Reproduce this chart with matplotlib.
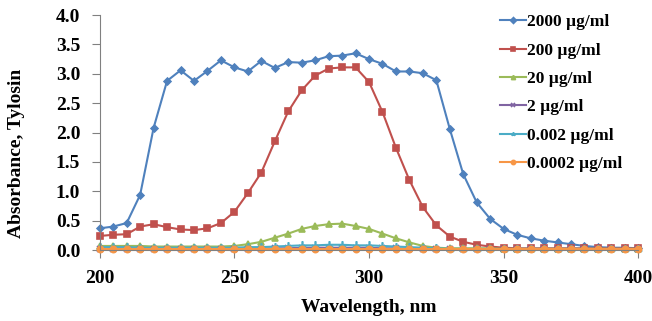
import numpy as np
import matplotlib
matplotlib.use("Agg")
import matplotlib.pyplot as plt

# wavelengths, nm (every 5 nm)
wavelength = list(range(200, 401, 5))

abs_2000 = [0.37, 0.40, 0.46, 0.94, 2.08, 2.88, 3.06, 2.88, 3.05, 3.23, 3.11,
            3.04, 3.22, 3.10, 3.20, 3.19, 3.23, 3.30, 3.31, 3.35, 3.25, 3.17,
            3.04, 3.04, 3.01, 2.89, 2.06, 1.29, 0.81, 0.53, 0.36, 0.26, 0.20,
            0.16, 0.13, 0.10, 0.07, 0.05, 0.04, 0.04, 0.03]
abs_200 = [0.24, 0.26, 0.27, 0.40, 0.44, 0.39, 0.35, 0.34, 0.37, 0.46, 0.65,
           0.97, 1.32, 1.85, 2.36, 2.72, 2.97, 3.09, 3.11, 3.11, 2.86, 2.35,
           1.74, 1.19, 0.73, 0.42, 0.23, 0.14, 0.09, 0.06, 0.04, 0.03, 0.03,
           0.03, 0.03, 0.03, 0.03, 0.03, 0.03, 0.03, 0.03]
abs_20 = [0.07, 0.07, 0.07, 0.07, 0.06, 0.06, 0.06, 0.06, 0.06, 0.06, 0.07,
          0.10, 0.14, 0.21, 0.28, 0.36, 0.41, 0.44, 0.45, 0.41, 0.36, 0.28,
          0.20, 0.13, 0.07, 0.04, 0.03, 0.03, 0.03, 0.03, 0.02, 0.02, 0.02,
          0.02, 0.02, 0.02, 0.02, 0.02, 0.02, 0.02, 0.02]
abs_2 = [0.02, 0.02, 0.02, 0.02, 0.02, 0.02, 0.02, 0.02, 0.02, 0.02, 0.02,
         0.02, 0.02, 0.03, 0.03, 0.04, 0.04, 0.04, 0.04, 0.04, 0.04, 0.03,
         0.03, 0.02, 0.02, 0.02, 0.01, 0.01, 0.01, 0.01, 0.01, 0.01, 0.01,
         0.01, 0.01, 0.01, 0.01, 0.01, 0.01, 0.01, 0.01]
abs_0002 = [0.05, 0.05, 0.05, 0.04, 0.04, 0.04, 0.04, 0.04, 0.04, 0.04, 0.04,
            0.05, 0.05, 0.06, 0.07, 0.08, 0.08, 0.09, 0.09, 0.08, 0.08, 0.07,
            0.06, 0.05, 0.04, 0.03, 0.02, 0.02, 0.02, 0.02, 0.02, 0.02, 0.02,
            0.02, 0.02, 0.02, 0.02, 0.02, 0.02, 0.02, 0.02]
abs_00002 = [0.01] * 41

labels = ["2000 µg/ml", "200 µg/ml", "20 µg/ml", "2 µg/ml",
          "0.002 µg/ml", "0.0002 µg/ml"]

series = [abs_2000, abs_200, abs_20, abs_2, abs_0002, abs_00002]
colors = ["#4F81BD", "#C0504D", "#9BBB59", "#8064A2", "#4BACC6", "#F79646"]
markers = ["D", "s", "^", "x", (3, 2, 0), "o"]
msizes = [3.5, 5, 5, 5, 6, 4.5]

plt.rcParams["font.family"] = "Liberation Serif"
plt.rcParams["font.weight"] = "bold"

fig = plt.figure(figsize=(6.52, 3.21), dpi=100)
ax = fig.add_axes([0.153, 0.221, 0.826, 0.732])

for y, lab, c, m, ms in zip(series, labels, colors, markers, msizes):
    ax.plot(wavelength, y, color=c, marker=m, markersize=ms, linewidth=1.5,
            label=lab, clip_on=False, markeredgewidth=1.2)

ax.set_xlim(200, 400)
ax.set_ylim(0, 4)
ax.set_xticks(np.arange(200, 401, 50))
ax.set_yticks(np.arange(0, 4.01, 0.5))
ax.yaxis.set_major_formatter(matplotlib.ticker.FormatStrFormatter("%.1f"))

for s in ["top", "right"]:
    ax.spines[s].set_visible(False)
for s in ["left", "bottom"]:
    ax.spines[s].set_color("#808080")
ax.tick_params(direction="out", length=6, color="#808080", labelsize=14, pad=8)
for t in ax.get_xticklabels() + ax.get_yticklabels():
    t.set_fontweight("bold")

ax.set_xlabel("Wavelength, nm", fontsize=14, fontweight="bold")
ax.set_ylabel("Absorbance, Tylosin", fontsize=14, fontweight="bold")
ax.xaxis.set_label_coords(0.5, -0.21)
ax.yaxis.set_label_coords(-0.138, 0.41)

leg = ax.legend(loc="upper right", bbox_to_anchor=(1.0, 1.07), frameon=False,
                prop={"family": "Liberation Serif", "weight": "bold", "size": 12.5},
                handlelength=1.5, handletextpad=0.1, labelspacing=0.7)
for h in leg.legend_handles:
    h.set_markersize(3)
    h.set_linewidth(1.5)

fig.savefig("out.png", dpi=100)
